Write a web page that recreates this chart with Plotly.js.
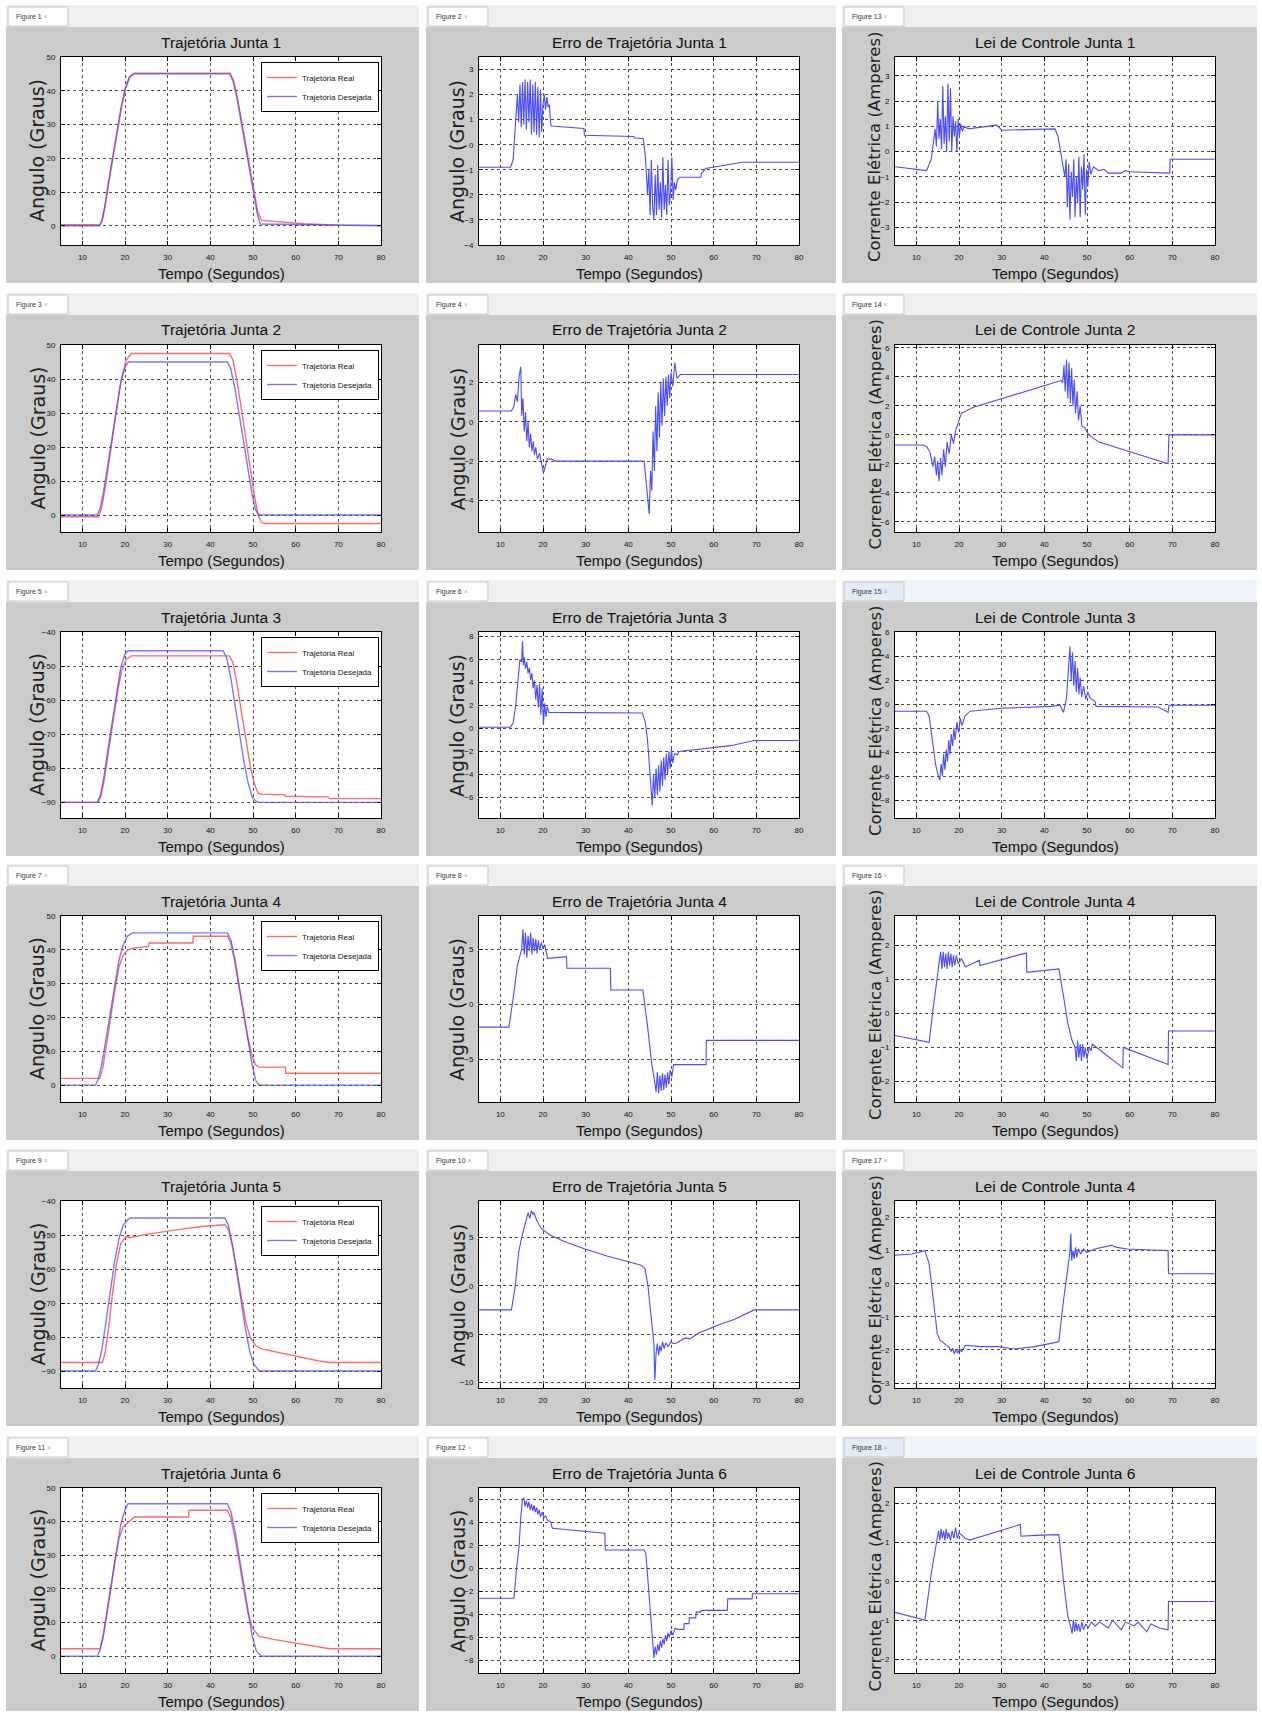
<!DOCTYPE html>
<html><head><meta charset="utf-8">
<script src="https://cdn.plot.ly/plotly-3.0.1.min.js"></script>
<style>html,body{margin:0;padding:0;background:#fff}#chart{width:1262px;height:1713px}</style>
</head><body><div id="chart"></div>
<script>
// ---------------- DATA ----------------
const trajTitles = ['Trajetória Junta 1','Trajetória Junta 2','Trajetória Junta 3','Trajetória Junta 4','Trajetória Junta 5','Trajetória Junta 6'];
const errTitles = ['Erro de Trajetória Junta 1','Erro de Trajetória Junta 2','Erro de Trajetória Junta 3','Erro de Trajetória Junta 4','Erro de Trajetória Junta 5','Erro de Trajetória Junta 6'];
const ctlTitles = ['Lei de Controle Junta 1','Lei de Controle Junta 2','Lei de Controle Junta 3','Lei de Controle Junta 4','Lei de Controle Junta 4','Lei de Controle Junta 6'];
const figNums = [[1,2,13],[3,4,14],[5,6,15],[7,8,16],[9,10,17],[11,12,18]];
const legendNames = ['Trajetória Real','Trajetória Desejada'];
const xTitle = 'Tempo (Segundos)';
const yTitleAngle = 'Angulo (Graus)';
const yTitleCurrent = 'Corrente Elétrica (Amperes)';
const xTickVals = [10,20,30,40,50,60,70,80];

// Junta 1
const real1 = [[5,0.3],[14.1,0.3],[14.7,1.8],[15.4,6.2],[16.1,12],[17.1,19.5],[18.1,27],[19.1,34.5],[20.1,40.5],[21.1,44],[22.1,45.2],[44.6,45.2],[45.4,43.2],[46.3,38.2],[47.3,31.2],[48.3,23.8],[49.3,16.3],[50.3,9],[51.1,4.2],[52,1.6],[56,1.2],[62,0.6],[70,0.2],[80,0.1]];
const des1 = [[5,0],[14,0],[14.6,1.5],[15.3,6],[16,12],[17,19.5],[18,27],[19,34.5],[20,40.5],[21,44],[22,45],[44.5,45],[45.3,43],[46.2,38],[47.2,31],[48.2,23.5],[49.2,16],[50.2,8.5],[51,3.5],[51.7,0.5],[80,0]];
const err1 = [[5,-0.9],[12.4,-0.9],[13.0,-0.6],[13.6,1.0],[14.0,2.0],[14.3,0.9],[14.6,2.4],[14.9,0.7],[15.2,2.5],[15.5,0.8],[15.8,2.6],[16.1,0.6],[16.4,2.5],[16.7,0.9],[17.0,2.6],[17.3,0.4],[17.6,2.4],[17.9,0.5],[18.2,2.5],[18.5,0.4],[18.8,2.3],[19.1,0.3],[19.4,2.2],[19.7,0.5],[20.0,1.6],[20.3,2.0],[20.6,1.4],[20.9,1.9],[21.2,1.5],[21.5,1.6],[21.8,0.8],[22.0,0.75],[29.6,0.65],[29.7,0.38],[41.3,0.33],[41.4,0.27],[43.5,0.25],[44.0,-0.5],[44.5,-2.0],[44.8,-1.0],[45.1,-2.8],[45.4,-0.6],[45.7,-2.5],[46.0,-3.0],[46.3,-1.2],[46.6,-2.8],[46.9,-0.8],[47.2,-2.6],[47.5,-1.5],[47.8,-2.9],[48.1,-0.5],[48.4,-2.6],[48.7,-1.6],[49.0,-2.8],[49.3,-0.6],[49.6,-2.4],[49.9,-1.9],[50.2,-0.5],[50.5,-2.2],[50.8,-1.5],[51.1,-1.8],[51.5,-1.4],[52.0,-1.3],[57.0,-1.3],[57.1,-1.15],[58.1,-0.95],[66.7,-0.7],[80,-0.7]];
const ctl1 = [[5,-0.6],[12.4,-0.75],[13.5,-0.3],[14.4,0.9],[14.7,0.2],[15.0,2.0],[15.3,0.5],[15.6,1.3],[15.9,0.1],[16.2,2.6],[16.5,0.3],[16.8,1.4],[17.1,0.0],[17.4,2.7],[17.7,0.4],[18.0,2.5],[18.3,0.0],[18.6,1.4],[18.9,0.6],[19.2,1.2],[19.5,0.0],[19.8,1.3],[20.1,0.6],[20.4,1.1],[20.8,0.8],[21.2,1.0],[22.2,0.9],[28.8,1.05],[29.2,1.0],[30,0.85],[42.5,0.9],[43.2,0.6],[44,-0.2],[44.8,-1.0],[45.1,-0.3],[45.4,-2.2],[45.7,-0.5],[46.0,-2.7],[46.3,-0.8],[46.6,-1.8],[46.9,-0.3],[47.2,-2.6],[47.5,-1.0],[47.8,-2.0],[48.1,-0.2],[48.4,-2.6],[48.7,-0.6],[49.0,-1.5],[49.3,-0.1],[49.6,-2.5],[49.9,-0.7],[50.2,-1.4],[50.5,-0.4],[50.9,-0.9],[51.5,-0.6],[52.7,-0.75],[54,-0.7],[55,-0.85],[58,-0.85],[59,-0.75],[60,-0.8],[69.4,-0.85],[69.5,-0.3],[80,-0.3]];

// Junta 2
const real2 = [[5,-0.5],[13.8,-0.5],[14.5,2],[15.3,7.5],[16.3,16],[17.3,25],[18.3,33.5],[19.3,41],[20.3,45.5],[21.5,47.5],[44.5,47.5],[45.3,45.5],[46.3,39],[47.3,31],[48.3,22.5],[49.3,14],[50.3,6],[51.2,0],[52,-2.2],[53,-2.5],[80,-2.5]];
const des2 = [[5,0],[13.5,0],[14.2,2],[15,7],[16,15],[17,23.5],[18,32],[19,39],[20,43.5],[20.8,45],[44,45],[44.8,43],[45.8,37],[46.8,29],[47.8,21],[48.8,13],[49.8,6],[50.6,1.5],[51.4,0],[80,0]];
const err2 = [[5,0.55],[12.6,0.55],[13.2,0.8],[13.6,1.4],[14.0,1.0],[14.4,2.3],[14.8,2.8],[15.0,0.3],[15.3,1.2],[15.6,-0.5],[15.9,0.5],[16.2,-1.0],[16.5,0.0],[16.8,-1.3],[17.1,-0.6],[17.4,-1.5],[17.7,-1.0],[18.0,-1.7],[18.3,-1.3],[18.7,-1.9],[19.2,-1.6],[19.6,-2.0],[20.1,-2.6],[20.5,-2.3],[21.0,-1.9],[22,-1.9],[23,-2.0],[43.7,-2.0],[44.2,-3.0],[44.9,-4.7],[45.2,-2.5],[45.5,-3.5],[45.8,-0.5],[46.1,-2.5],[46.4,0.8],[46.7,-1.5],[47.0,1.5],[47.3,-0.8],[47.6,2.0],[47.9,-0.2],[48.2,2.2],[48.5,0.3],[48.8,2.3],[49.1,0.8],[49.4,2.4],[49.7,1.2],[50.0,2.5],[50.4,1.8],[50.9,3.0],[51.4,2.2],[52.2,2.4],[80,2.4]];
const ctl2 = [[5,-0.7],[11.6,-0.7],[12.4,-0.8],[13.2,-1.2],[13.9,-2.2],[14.3,-1.5],[14.7,-2.8],[15.0,-1.8],[15.3,-3.2],[15.7,-1.6],[16.0,-2.8],[16.4,-1.0],[16.8,-2.2],[17.2,-0.5],[17.7,-1.3],[18.2,0.0],[18.7,-0.6],[19.2,0.3],[20.0,1.0],[20.6,1.5],[23.4,1.9],[39.6,3.4],[43.9,3.75],[44.3,3.6],[44.6,4.8],[44.9,3.0],[45.2,5.2],[45.5,2.5],[45.8,5.0],[46.1,2.2],[46.4,4.6],[46.7,2.0],[47.0,3.8],[47.3,1.5],[47.7,3.0],[48.0,1.0],[48.4,2.0],[48.8,0.6],[49.5,0.5],[50.4,0.0],[52.8,-0.5],[69.0,-2.0],[69.2,0.0],[80,0.0]];

// Junta 3
const real3 = [[5,-90],[13.7,-90],[14.4,-88],[15.2,-83],[16.2,-74.5],[17.2,-66],[18.2,-58],[19.2,-51.5],[20.3,-48],[21.5,-47],[44.5,-47],[45.3,-49],[46.3,-55.5],[47.3,-63.5],[48.3,-71.5],[49.3,-79],[50.3,-84.5],[51.2,-87.3],[52,-87.6],[57.5,-87.8],[57.7,-88.2],[67.5,-88.4],[68,-88.9],[80,-88.9]];
const des3 = [[5,-90],[13.5,-90],[14.2,-88],[15,-83],[16,-74.5],[17,-66],[18,-57.5],[19,-50.5],[20,-46.5],[20.7,-45.5],[43,-45.5],[43.8,-47.5],[44.8,-53.5],[45.8,-61.5],[46.8,-69.5],[47.8,-77.5],[48.8,-84],[49.8,-88.5],[51,-90],[80,-90]];
const err3 = [[5,0.1],[12.4,0.1],[13.0,0.5],[13.6,2.0],[14.1,4.0],[14.6,6.0],[15.0,5.8],[15.2,7.6],[15.4,5.5],[15.6,6.2],[15.9,5.2],[16.2,5.8],[16.5,4.8],[16.8,5.3],[17.1,4.2],[17.4,4.8],[17.7,3.5],[18.0,4.2],[18.3,2.5],[18.6,3.8],[18.9,1.8],[19.2,3.9],[19.5,1.2],[19.8,3.5],[20.1,0.3],[20.4,2.2],[20.7,1.0],[21.0,1.9],[21.4,1.4],[43.3,1.35],[44.0,0.5],[44.5,-1.0],[44.8,-2.5],[45.2,-4.5],[45.6,-6.7],[45.9,-4.0],[46.2,-6.0],[46.5,-3.5],[46.8,-5.8],[47.1,-3.2],[47.4,-5.5],[47.7,-2.8],[48.0,-5.0],[48.3,-2.5],[48.6,-4.5],[48.9,-2.2],[49.2,-4.0],[49.5,-2.0],[49.8,-3.5],[50.1,-1.8],[50.4,-3.0],[50.8,-2.2],[51.5,-2.3],[51.9,-2.0],[59.3,-1.7],[64,-1.5],[69.5,-1.05],[80,-1.05]];
const ctl3 = [[5,-0.6],[12.4,-0.6],[13.0,-1.0],[13.75,-3.0],[14.5,-5.0],[15.0,-5.8],[15.5,-6.35],[15.8,-5.0],[16.1,-6.0],[16.4,-4.2],[16.7,-5.5],[17.0,-3.8],[17.3,-4.8],[17.6,-3.0],[17.9,-4.2],[18.2,-2.5],[18.5,-3.5],[18.8,-2.0],[19.1,-3.0],[19.5,-1.5],[19.9,-2.4],[20.3,-1.2],[20.7,-1.8],[21.4,-1.0],[22.6,-0.6],[30,-0.35],[41.7,-0.2],[43.7,-0.1],[44.5,-0.7],[45.2,0.5],[45.6,3.0],[46.0,4.8],[46.3,2.0],[46.6,4.3],[46.9,1.5],[47.2,3.6],[47.5,1.0],[47.8,3.0],[48.1,0.8],[48.4,2.2],[48.75,0.6],[49.2,1.5],[49.7,0.4],[50.2,1.0],[50.7,0.5],[51.9,0.2],[52.1,-0.2],[58.9,-0.2],[66.7,-0.25],[69,-0.7],[69.2,-0.1],[80,-0.1]];

// Junta 4
const real4 = [[5,2],[14.1,2],[14.8,5],[15.6,11],[16.6,19.5],[17.6,28],[18.6,35],[19.6,38.5],[20.7,40],[22,40.5],[25.5,41],[25.6,42],[35.9,42],[36,44],[44,44],[44.8,42],[45.8,36],[46.8,28.5],[47.8,21],[48.8,14],[49.8,8.5],[50.6,6],[51.4,5.3],[57.6,5.3],[57.7,3.5],[80,3.5]];
const des4 = [[5,0],[13.1,0],[13.8,2],[14.6,6.5],[15.6,14],[16.6,22],[17.6,30],[18.6,37],[19.6,41.5],[20.6,44],[21.7,45],[44,45],[44.8,43],[45.8,37],[46.8,29],[47.8,21],[48.8,13],[49.8,6],[50.6,1.5],[51.4,0],[80,0]];
const err4 = [[5,-2.1],[12,-2.1],[13,0.5],[14,3.5],[15,5.0],[15.3,6.8],[15.6,4.5],[15.9,6.5],[16.2,4.2],[16.5,6.2],[16.8,4.8],[17.1,6.5],[17.4,4.5],[17.7,6.0],[18.0,4.8],[18.3,5.9],[18.6,4.6],[18.9,5.8],[19.2,4.9],[19.6,5.6],[20.0,5.0],[20.4,5.4],[21.1,4.15],[25.5,4.3],[25.6,3.25],[35.8,3.25],[35.9,1.27],[43.4,1.27],[44.5,-2.0],[45.5,-5.5],[46.2,-7.1],[46.5,-8.0],[46.8,-6.2],[47.1,-8.1],[47.4,-6.5],[47.7,-7.9],[48.0,-6.3],[48.3,-7.8],[48.6,-6.4],[48.9,-7.6],[49.2,-6.2],[49.5,-7.3],[49.8,-6.0],[50.2,-6.6],[50.6,-5.5],[58.2,-5.5],[58.3,-3.3],[80,-3.3]];
const ctl4 = [[5,-0.65],[13,-0.85],[14.0,0.2],[15.0,1.2],[15.4,1.5],[15.7,1.8],[16.0,1.3],[16.3,1.8],[16.6,1.35],[16.9,1.75],[17.2,1.3],[17.5,1.8],[17.8,1.4],[18.1,1.75],[18.4,1.35],[18.7,1.7],[19.0,1.4],[19.4,1.7],[19.8,1.45],[20.6,1.6],[21.5,1.36],[24.8,1.55],[24.9,1.4],[35.8,1.77],[35.9,1.2],[43.4,1.3],[44.5,0.5],[45.5,-0.3],[46.5,-0.8],[47.2,-1.0],[47.5,-1.4],[47.8,-0.8],[48.1,-1.3],[48.4,-0.9],[48.7,-1.4],[49.0,-0.9],[49.3,-1.3],[49.6,-1.0],[50.0,-1.35],[50.5,-1.0],[51.0,-1.1],[51.2,-0.9],[58.4,-1.6],[58.5,-1.0],[69,-1.5],[69.1,-0.52],[80,-0.52]];

// Junta 5
const real5 = [[5,-87.5],[14.7,-87.5],[15.3,-85],[16.1,-78],[17,-68],[18,-58.5],[19,-52.5],[20.3,-50.3],[21,-50.8],[25,-49.8],[32,-48.5],[38,-47.5],[43.4,-47],[44.3,-48.5],[45.3,-54],[46.3,-61.5],[47.3,-69],[48.3,-75.5],[49.3,-80],[50.6,-82.5],[52,-83.5],[57.7,-85],[62,-86.3],[65.2,-87],[68,-87.5],[80,-87.5]];
const des5 = [[5,-90],[13.1,-90],[13.8,-88],[14.6,-83.5],[15.6,-75],[16.6,-66],[17.6,-57.5],[18.6,-51],[19.6,-47],[21.1,-45],[43.4,-45],[44.2,-47],[45.2,-53],[46.2,-61],[47.2,-69.5],[48.2,-77.5],[49.2,-84],[50.2,-88],[51.5,-90],[80,-90]];
const err5 = [[5,-2.5],[12.6,-2.5],[13.5,0],[14.3,3.5],[15,5.0],[15.8,6.5],[16.5,7.6],[16.9,7.0],[17.3,7.8],[17.7,7.4],[17.9,7.6],[18.5,6.8],[19.5,6.0],[21.5,5.3],[25,4.6],[30,3.8],[35,3.1],[40,2.5],[43,2.14],[43.9,1.8],[44.6,0],[45.3,-3.0],[46.0,-6.0],[46.2,-9.8],[46.5,-7.0],[46.8,-6.0],[47.1,-7.2],[47.4,-6.2],[47.7,-6.8],[48.0,-5.8],[48.4,-6.5],[48.8,-5.9],[49.3,-6.3],[50.0,-5.8],[50.6,-6.0],[51.5,-5.9],[52.5,-5.6],[53.5,-5.4],[54.4,-5.5],[56.5,-4.9],[59.1,-4.4],[62,-3.9],[64.8,-3.5],[67,-3.0],[69.5,-2.5],[80,-2.5]];
const ctl5 = [[5,0.86],[9,0.9],[12,1.0],[13,0.6],[14,-0.5],[14.9,-1.5],[15.5,-1.7],[16.5,-1.8],[17.7,-1.92],[18.2,-2.05],[18.5,-1.95],[18.9,-2.12],[19.3,-1.98],[19.7,-2.1],[20.1,-1.97],[20.6,-2.05],[21.5,-1.86],[25,-1.9],[29,-1.9],[32.9,-1.97],[37.7,-1.9],[42.4,-1.78],[43.4,-1.75],[44.5,-0.5],[45.6,0.5],[46.0,0.95],[46.2,1.52],[46.4,0.7],[46.7,1.0],[47.0,0.75],[47.3,1.1],[47.6,0.8],[48.0,1.05],[48.5,0.9],[49.2,1.05],[50,0.95],[51.8,1.05],[55.7,1.16],[57,1.1],[59.5,1.05],[65,1.02],[69,1.0],[69.1,0.3],[80,0.3]];

// Junta 6
const real6 = [[5,2.2],[14.1,2.2],[14.8,5],[15.6,11],[16.6,19.5],[17.6,28],[18.6,35],[19.6,38.5],[21.1,40.1],[22.2,41.4],[34.9,41.4],[35,43.4],[44,43.4],[44.8,41],[45.8,35],[46.8,27.5],[47.8,20],[48.8,13],[49.8,8.5],[51.4,5.9],[54.8,5],[59.5,4],[65.2,3],[68,2.2],[80,2.2]];
const des6 = [[5,0],[13.5,0],[14.2,2],[15,7],[16,15],[17,23.5],[18,32],[19,39],[20,43.5],[20.7,45.3],[44,45.3],[44.8,43],[45.8,37],[46.8,29],[47.8,21],[48.8,13],[49.8,6],[50.8,1.5],[52,0],[80,0]];
const err6 = [[5,-2.6],[13.2,-2.6],[13.8,0],[14.4,2.0],[14.8,4.5],[15.2,6.0],[15.5,6.15],[15.8,5.4],[16.1,5.9],[16.4,5.3],[16.7,5.8],[17.0,5.1],[17.3,5.6],[17.6,5.0],[17.9,5.5],[18.2,4.9],[18.5,5.3],[18.8,4.7],[19.1,5.1],[19.4,4.5],[19.8,4.9],[20.2,4.4],[20.6,4.6],[21.0,4.2],[21.8,4.05],[22.2,3.5],[34.5,3.06],[34.6,1.6],[43.7,1.6],[44.1,1.3],[44.8,-2.0],[45.5,-5.5],[46.0,-7.8],[46.3,-6.8],[46.6,-7.5],[46.9,-6.6],[47.2,-7.2],[47.5,-6.3],[47.8,-6.9],[48.1,-6.1],[48.4,-6.6],[48.7,-5.8],[49.0,-6.3],[49.3,-5.6],[49.6,-6.0],[50.0,-5.4],[50.4,-5.8],[51.0,-5.2],[51.5,-5.3],[53,-5.3],[53.1,-4.8],[54.2,-4.8],[54.3,-4.3],[55.8,-4.3],[55.9,-3.8],[57,-3.8],[57.1,-3.65],[63.2,-3.65],[63.3,-2.65],[69,-2.65],[69.1,-2.2],[80,-2.2]];
const ctl6 = [[5,-0.8],[12,-1.0],[13.5,0.2],[14.9,1.12],[15.2,1.3],[15.5,1.05],[15.8,1.35],[16.1,1.1],[16.4,1.3],[16.7,1.05],[17.0,1.35],[17.3,1.1],[17.6,1.25],[18.0,1.05],[18.4,1.3],[18.8,1.1],[19.2,1.38],[19.6,1.1],[20.0,1.25],[21.5,1.1],[22.5,1.06],[34.4,1.46],[34.5,1.16],[38,1.18],[43.4,1.2],[44.5,0.0],[45.5,-0.9],[46.2,-1.18],[46.5,-1.35],[46.8,-1.0],[47.1,-1.3],[47.4,-1.05],[47.7,-1.28],[48.0,-1.1],[48.4,-1.3],[48.8,-1.05],[49.2,-1.25],[49.7,-1.1],[50.3,-1.2],[51.0,-1.05],[51.9,-1.15],[53,-1.05],[55,-1.2],[56,-1.0],[58,-1.25],[59,-1.05],[61,-1.15],[62,-1.05],[64,-1.3],[65,-1.1],[67,-1.2],[69,-1.25],[69.1,-0.52],[80,-0.52]];

const realSeries = [real1,real2,real3,real4,real5,real6];
const desSeries = [des1,des2,des3,des4,des5,des6];
const errSeries = [err1,err2,err3,err4,err5,err6];
const ctlSeries = [ctl1,ctl2,ctl3,ctl4,ctl5,ctl6];

// ---------------- LAYOUT ----------------
const W = 1262, H = 1713;
const yRanges = [
  [[-5.7,50],[-4,3.5],[-3.7,3.75]],
  [[-5,50],[-5.6,3.9],[-6.7,6.2]],
  [[-94.6,-40],[-7.8,8.4],[-9.5,6]],
  [[-5,50],[-8.9,8],[-2.6,2.85]],
  [[-95,-40],[-10.6,8.8],[-3.15,2.5]],
  [[-5,50],[-9.1,7],[-2.36,2.4]]
];
const yDticks = [[10,1,1],[10,2,2],[10,2,2],[10,5,1],[10,5,1],[10,2,1]];
const colAx = [[61,381],[479,799],[895,1215]];
const colBox = [[6,419],[426,836],[842,1257]];
const rowAx = [[57,245],[345,532],[632,818],[916,1102],[1201,1388],[1488,1673]];
const yTitleX = [37,457,875];

const FN = 'Liberation Sans Narrow, Liberation Sans, Arial, sans-serif';
const FW = 'Liberation Sans, Arial, sans-serif';
const FD = 'DejaVu Sans, Liberation Sans, sans-serif';
const RED = '#ff5a5a', BLUE = '#4a4aff';
const px = x => x / W, py = y => 1 - y / H;

const traces = [], shapes = [], annotations = [];
const layout = {
  width: W, height: H, margin: {l:0,r:0,t:0,b:0},
  paper_bgcolor: '#ffffff', plot_bgcolor: 'rgba(0,0,0,0)',
  showlegend: true, font: {family: FW, color: '#000'}
};

for (let r = 0; r < 6; r++) {
  const [top, bot] = rowAx[r];
  for (let c = 0; c < 3; c++) {
    const idx = r*3 + c + 1;
    const sfx = idx === 1 ? '' : String(idx);
    const [l, rr] = colAx[c];
    const [bl, br] = colBox[c];
    const active = (c===2 && (r===2||r===5));
    // window chrome
    shapes.push({type:'rect', xref:'paper', yref:'paper', layer:'below', x0:px(bl), x1:px(br), y0:py(top-30), y1:py(top-52), fillcolor: active ? '#eef3f9' : '#f0f0f0', line:{width:0}});
    shapes.push({type:'rect', xref:'paper', yref:'paper', layer:'below', x0:px(bl+2), x1:px(bl+62), y0:py(top-31), y1:py(top-50), fillcolor: active ? '#e3ecf7' : '#ffffff', line:{width:1,color:'#c4c4c4'}});
    shapes.push({type:'rect', xref:'paper', yref:'paper', layer:'below', x0:px(bl), x1:px(br), y0:py(bot+38), y1:py(top-30), fillcolor:'#cbcbcb', line:{width:0}});
    shapes.push({type:'rect', xref:'paper', yref:'paper', layer:'below', x0:px(l), x1:px(rr), y0:py(bot), y1:py(top), fillcolor:'#ffffff', line:{width:0}});
    annotations.push({xref:'paper', yref:'paper', x:px(bl+8), y:py(top-40), xanchor:'left', yanchor:'middle', showarrow:false,
      text:'Figure ' + figNums[r][c] + ' <span style="color:#b0b0b0">×</span>', font:{family:FN, size:7, color:'#333'}});
    // titles
    const ttl = c===0 ? trajTitles[r] : (c===1 ? errTitles[r] : ctlTitles[r]);
    annotations.push({xref:'paper', yref:'paper', x:px((l+rr)/2), y:py(top-15), xanchor:'center', yanchor:'middle', showarrow:false,
      text: ttl, font:{family:FN, size:15.5, color:'#111'}});
    annotations.push({xref:'paper', yref:'paper', x:px((l+rr)/2), y:py(bot+28), xanchor:'center', yanchor:'middle', showarrow:false,
      text: xTitle, font:{family:FN, size:15, color:'#111'}});
    annotations.push({xref:'paper', yref:'paper', x:px(yTitleX[c]), y:py((top+bot)/2 - 4*(c===2)), xanchor:'center', yanchor:'middle', showarrow:false, textangle:-90,
      text: c===2 ? yTitleCurrent : yTitleAngle, font:{family:FD, size: c===2 ? 16.5 : 19, color:'#222'}});
    // axes
    const axCommon = {showline:true, linecolor:'#000', linewidth:1, mirror:'allticks', ticks:'inside', ticklen:4, tickcolor:'#000',
      showgrid:true, gridcolor:'#4a4a4a', griddash:'dot', gridwidth:1, zeroline:false, automargin:false,
      tickfont:{family:FN, size:8, color:'#111'}, fixedrange:true};
    layout['xaxis'+sfx] = Object.assign({}, axCommon, {domain:[px(l), px(rr)], anchor:'y'+sfx, range:[5,80], tickvals:xTickVals, ticktext:xTickVals.map(String), ticklabelstandoff:4});
    layout['yaxis'+sfx] = Object.assign({}, axCommon, {domain:[py(bot), py(top)], anchor:'x'+sfx, range:yRanges[r][c], dtick:yDticks[r][c], tick0:0, ticklabelstandoff:3});
    const xa = 'x'+sfx, ya = 'y'+sfx;
    if (c === 0) {
      const lg = r===0 ? 'legend' : 'legend'+(r+1);
      traces.push({type:'scatter', mode:'lines', name:legendNames[0], x:realSeries[r].map(p=>p[0]), y:realSeries[r].map(p=>p[1]), xaxis:xa, yaxis:ya, legend:lg, line:{color:RED, width:1.4}, opacity:0.9});
      traces.push({type:'scatter', mode:'lines', name:legendNames[1], x:desSeries[r].map(p=>p[0]), y:desSeries[r].map(p=>p[1]), xaxis:xa, yaxis:ya, legend:lg, line:{color:BLUE, width:1.4}, opacity:0.75});
      layout[lg] = {xref:'paper', yref:'paper', x:px(rr-2), y:py(top+5), xanchor:'right', yanchor:'top', bgcolor:'#ffffff', bordercolor:'#000', borderwidth:1,
        font:{family:FN, size:8, color:'#111'}, itemwidth:30, tracegroupgap:0, traceorder:'normal'};
    } else {
      const s = c===1 ? errSeries[r] : ctlSeries[r];
      traces.push({type:'scatter', mode:'lines', name: c===1 ? errTitles[r] : ctlTitles[r], x:s.map(p=>p[0]), y:s.map(p=>p[1]), xaxis:xa, yaxis:ya, showlegend:false, line:{color:BLUE, width:1.1}});
    }
  }
}
layout.shapes = shapes;
layout.annotations = annotations;
Plotly.newPlot('chart', traces, layout, {staticPlot:true, displayModeBar:false});
</script>
</body></html>
